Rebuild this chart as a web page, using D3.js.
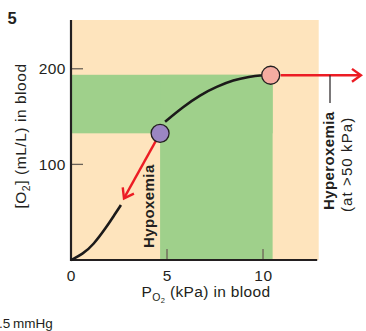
<!DOCTYPE html>
<html><head><meta charset="utf-8">
<script src="https://cdn.jsdelivr.net/npm/d3@7"></script>
<style>
html,body{margin:0;padding:0;background:#fff;overflow:hidden}
svg{display:block;font-family:"Liberation Sans",Arial,Helvetica,sans-serif}
</style></head><body>
<svg id="c" width="366" height="331"></svg>
<script>
// ---- data (kPa, mL/L) ----
const xTicks = [0, 5, 10];
const yTicks = [100, 200];
const lowerCurve = [[0,0],[0.6,6],[1.16,15.7],[1.86,34.8],[2.2,45.3],[2.6,57.5]];
const upperCurve = [[4.64,132.5],[4.9,144.7],[5.85,160.4],[6.72,172.6],[7.59,181.3],[8.45,188.3],[9.32,191.7],[9.84,193.2],[10.4,193.2]];
const hypoxPoint = [4.64, 132.5];
const normalPoint = [10.4, 193.2];
const hypoxArrowEnd = [2.76, 64.5];
const hyperArrowEnd = [15.1, 193.2];
const greenRight = 10.5, greenTop = 193.7;
const xMax = 12.9, yMax = 251;

const svg = d3.select("#c");
const x = d3.scaleLinear().domain([0, xMax]).range([71, 318.7]);
const y = d3.scaleLinear().domain([0, yMax]).range([260, 20]);

// background peach
svg.append("rect").attr("x", x(0)).attr("y", y(yMax)).attr("width", x(xMax)-x(0)).attr("height", y(0)-y(yMax)).attr("fill", "#fee4bd");
// green L region
const g = svg.append("g").attr("fill", "#9fd08b");
g.append("rect").attr("x", x(0)).attr("y", y(greenTop)).attr("width", x(greenRight)-x(0)).attr("height", y(hypoxPoint[1])-y(greenTop));
g.append("rect").attr("x", x(hypoxPoint[0])).attr("y", y(greenTop)).attr("width", x(greenRight)-x(hypoxPoint[0])).attr("height", y(0)-y(greenTop));

// ticks (inward)
svg.append("g").selectAll("line").data(yTicks).join("line")
  .attr("x1", x(0)).attr("x2", x(0)+12).attr("y1", d=>y(d)).attr("y2", d=>y(d))
  .attr("stroke", "#6b6257").attr("stroke-width", 1.3);
svg.append("g").selectAll("line").data(xTicks.filter(d=>d>0)).join("line")
  .attr("x1", d=>x(d)).attr("x2", d=>x(d)).attr("y1", y(0)).attr("y2", y(0)-11)
  .attr("stroke", "#6b6257").attr("stroke-width", 1.3);

// axes lines
svg.append("line").attr("x1", x(0)).attr("x2", x(0)).attr("y1", y(yMax)).attr("y2", y(0)+1).attr("stroke", "#231f20").attr("stroke-width", 2.2);
svg.append("line").attr("x1", x(0)-1).attr("x2", x(xMax)-1.5).attr("y1", y(0)).attr("y2", y(0)).attr("stroke", "#231f20").attr("stroke-width", 2.2);

// tick labels
svg.append("g").selectAll("text").data(xTicks).join("text")
  .attr("x", d=>x(d)+0.4).attr("y", 280.5).attr("text-anchor","middle").text(d=>d)
  .attr("font-size", "15.5px").attr("fill", "#231f20").attr("letter-spacing", "0.5px");
svg.append("g").selectAll("text").data(yTicks).join("text")
  .attr("x", 66).attr("y", d=>y(d)+5.4).attr("text-anchor","end").text(d=>d)
  .attr("font-size", "15.5px").attr("fill", "#231f20").attr("letter-spacing", "0.5px");

// curves
const line = d3.line().x(d=>x(d[0])).y(d=>y(d[1])).curve(d3.curveBasis);
svg.append("path").attr("d", line(lowerCurve)).attr("fill","none").attr("stroke","#1c1a1a").attr("stroke-width",2.6).attr("stroke-linecap","butt");
svg.append("path").attr("d", line(upperCurve.slice(1))).attr("fill","none").attr("stroke","#1c1a1a").attr("stroke-width",2.6);

// arrows
function arrow(p0, p1, startOff){
  const x0=x(p0[0]), y0=y(p0[1]), x1=x(p1[0]), y1=y(p1[1]);
  const ang=Math.atan2(y1-y0, x1-x0);
  const sx=x0+Math.cos(ang)*startOff, sy=y0+Math.sin(ang)*startOff;
  svg.append("line").attr("x1",sx).attr("y1",sy).attr("x2",x1-Math.cos(ang)*1).attr("y2",y1-Math.sin(ang)*1)
    .attr("stroke","#ec1c24").attr("stroke-width",2.4);
  const L=11, a=0.62;
  const pts=[[x1-L*Math.cos(ang-a), y1-L*Math.sin(ang-a)],[x1,y1],[x1-L*Math.cos(ang+a), y1-L*Math.sin(ang+a)]];
  svg.append("path").attr("d", d3.line()(pts)).attr("fill","none").attr("stroke","#ec1c24").attr("stroke-width",2.4).attr("stroke-linejoin","miter");
}
arrow(hypoxPoint, hypoxArrowEnd, 9);
arrow(normalPoint, hyperArrowEnd, 10);

// points
svg.append("circle").attr("cx", x(hypoxPoint[0])).attr("cy", y(hypoxPoint[1])).attr("r", 9).attr("fill","#9b86c2").attr("stroke","#231f20").attr("stroke-width",1.3);
svg.append("circle").attr("cx", x(normalPoint[0])).attr("cy", y(normalPoint[1])).attr("r", 9).attr("fill","#f5aca1").attr("stroke","#231f20").attr("stroke-width",1.3);

// hyperoxemia leader line
svg.append("line").attr("x1", 330).attr("x2", 330).attr("y1", y(normalPoint[1])).attr("y2", 103).attr("stroke","#231f20").attr("stroke-width",1.2);

// rotated labels
svg.append("text").attr("transform","translate(333.5,210) rotate(-90)").attr("font-size","15px").attr("font-weight","bold").attr("letter-spacing","0.4px").attr("fill","#231f20").text("Hyperoxemia");
svg.append("text").attr("transform","translate(352,212) rotate(-90)").attr("font-size","15px").attr("letter-spacing","1.1px").attr("fill","#231f20").text("(at >50 kPa)");
svg.append("text").attr("transform","translate(153.5,248) rotate(-90)").attr("font-size","15px").attr("font-weight","bold").attr("letter-spacing","0.4px").attr("fill","#231f20").text("Hypoxemia");

// axis titles
const xt = svg.append("text").attr("x", 206).attr("y", 296.5).attr("text-anchor","middle").attr("font-size","15.5px").attr("letter-spacing","0.35px").attr("fill","#231f20");
xt.append("tspan").text("P");
xt.append("tspan").attr("font-size","10.5px").attr("dy", 4).text("O");
xt.append("tspan").attr("font-size","7.5px").attr("dy", 2.5).text("2");
xt.append("tspan").attr("dy", -6.5).text(" (kPa) in blood");

const yt = svg.append("text").attr("transform","translate(26,136) rotate(-90)").attr("text-anchor","middle").attr("font-size","15.5px").attr("letter-spacing","0.55px").attr("fill","#231f20");
yt.append("tspan").text("[O");
yt.append("tspan").attr("font-size","10.5px").attr("dy", 4).text("2");
yt.append("tspan").attr("dy", -4).text("] (mL/L) in blood");

// panel number and footnote
svg.append("text").attr("x", 7.5).attr("y", 23.5).attr("font-size","16.5px").attr("font-weight","bold").attr("fill","#231f20").text("5");
svg.append("text").attr("x", -1).attr("y", 328).attr("font-size","13.5px").attr("fill","#231f20").text(".5\u2009mmHg");
</script>
</body></html>
